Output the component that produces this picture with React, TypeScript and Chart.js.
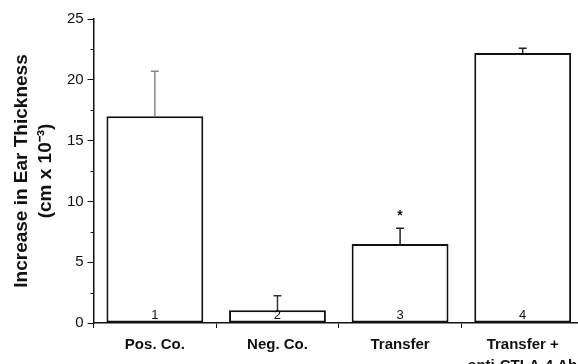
import React, { useEffect, useRef } from "react";
import { Chart, registerables } from "chart.js";

Chart.register(...registerables);

const categories: (string | string[])[] = ["Pos. Co.", "Neg. Co.", "Transfer", ["Transfer +", "anti-CTLA-4 Ab"]];
const barValues = [17.0, 1.05, 6.5, 22.2];
const errorValues = [3.7, 1.2, 1.3, 0.4];
const errorColors = ["#888888", "#333333", "#222222", "#222222"];
const barNumbers = ["1", "2", "3", "4"];
const starred = [false, false, true, false];
const yTicksMajor = [0, 5, 10, 15, 20, 25];
const yTicksMinor = [2.5, 7.5, 12.5, 17.5, 22.5];

const FONT = "'Liberation Sans', Arial, sans-serif";

const overlayPlugin = {
  id: "overlay",
  afterDatasetsDraw(chart: any) {
    const ctx = chart.ctx;
    const xs = chart.scales.x;
    const ys = chart.scales.y;
    ctx.save();
    barValues.forEach((v, i) => {
      const x = xs.getPixelForValue(i);
      const yb = ys.getPixelForValue(v);
      const yt = ys.getPixelForValue(v + errorValues[i]);
      ctx.strokeStyle = errorColors[i];
      ctx.lineWidth = 1.5;
      ctx.beginPath();
      ctx.moveTo(x, yb);
      ctx.lineTo(x, yt);
      ctx.moveTo(x - 4, yt);
      ctx.lineTo(x + 4, yt);
      ctx.stroke();
      ctx.fillStyle = "#111";
      ctx.font = `13px ${FONT}`;
      ctx.textAlign = "center";
      ctx.textBaseline = "middle";
      ctx.fillText(barNumbers[i], x, ys.getPixelForValue(0) - 8);
      if (starred[i]) {
        ctx.font = `bold 14px ${FONT}`;
        ctx.fillText("*", x, yt - 12);
      }
    });
    // minor y ticks
    ctx.strokeStyle = "#111";
    ctx.lineWidth = 1;
    const left = chart.chartArea.left;
    yTicksMinor.forEach((t) => {
      const y = Math.round(ys.getPixelForValue(t)) + 0.5;
      ctx.beginPath();
      ctx.moveTo(left - 3, y);
      ctx.lineTo(left, y);
      ctx.stroke();
    });
    ctx.restore();
  },
};

export default function App() {
  const ref = useRef<HTMLCanvasElement | null>(null);
  useEffect(() => {
    if (!ref.current) return;
    const chart = new Chart(ref.current, {
      type: "bar",
      data: {
        labels: categories as any,
        datasets: [
          {
            data: barValues,
            backgroundColor: "#ffffff",
            borderColor: "#111111",
            borderWidth: 2,
            borderSkipped: false,
            categoryPercentage: 1,
            barPercentage: 0.79,
          },
        ],
      },
      options: {
        animation: false,
        responsive: false,
        maintainAspectRatio: false,
        layout: { padding: { left: 7, top: 19, right: 0, bottom: 0 } },
        plugins: { legend: { display: false }, tooltip: { enabled: false } },
        scales: {
          x: {
            offset: true,
            grid: { offset: true, drawOnChartArea: false, tickLength: 5, color: "#111" },
            border: { color: "#111", width: 1.5 },
            ticks: { color: "#111", padding: 6, font: { family: FONT, size: 15, weight: "bold", lineHeight: 1.4 }, maxRotation: 0 },
          },
          y: {
            min: 0,
            max: 25,
            afterBuildTicks: (axis: any) => {
              axis.ticks = yTicksMajor.map((v) => ({ value: v }));
            },
            grid: { drawOnChartArea: false, tickLength: 6, color: "#111" },
            border: { color: "#111", width: 1.5 },
            ticks: { color: "#111", padding: 4, font: { family: FONT, size: 15 } },
            title: {
              display: true,
              text: ["Increase in Ear Thickness", "(cm x 10\u207B\u00B3)"],
              color: "#111",
              font: { family: FONT, size: 19, weight: "bold", lineHeight: 1.26 },
              padding: { top: 3, bottom: 5 },
            },
          },
        },
      },
      plugins: [overlayPlugin],
    });
    return () => chart.destroy();
  }, []);
  return (
    <div style={{ position: "fixed", left: 0, top: 0, width: 578, height: 364, overflow: "hidden", background: "#fff" }}>
      <canvas ref={ref} width={584} height={382} style={{ width: 584, height: 382, display: "block" }} />
    </div>
  );
}
